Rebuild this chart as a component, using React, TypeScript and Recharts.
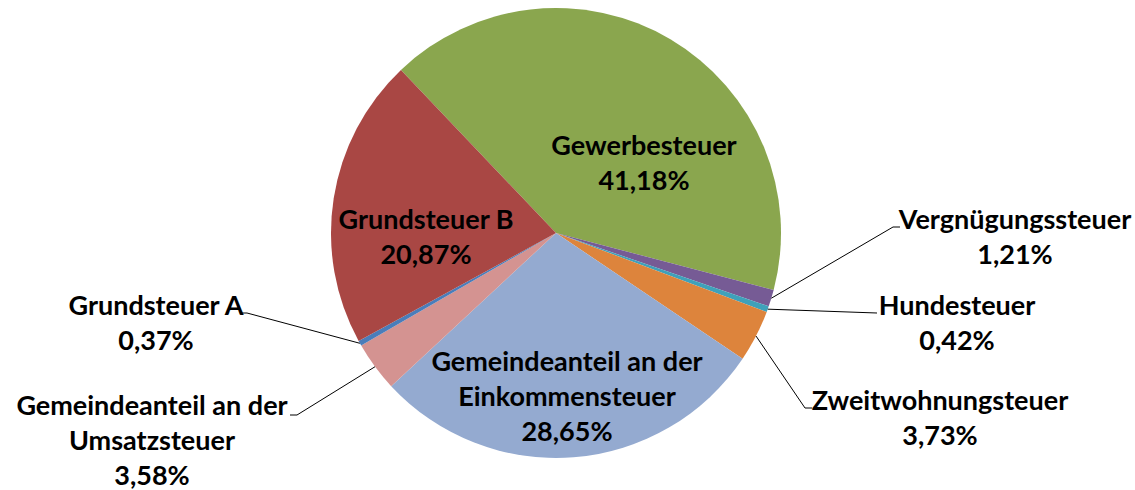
import { Cell, Pie, PieChart } from "recharts"

const names = [
  "Gewerbesteuer",
  "Vergnügungssteuer",
  "Hundesteuer",
  "Zweitwohnungsteuer",
  "Gemeindeanteil an der Einkommensteuer",
  "Gemeindeanteil an der Umsatzsteuer",
  "Grundsteuer A",
  "Grundsteuer B",
]

const shares = [41.18, 1.21, 0.42, 3.73, 28.65, 3.58, 0.37, 20.87]

const colors = [
  "#8aa64e",
  "#765b95",
  "#3fa1ba",
  "#dd843c",
  "#94aad0",
  "#d49391",
  "#4a7dba",
  "#a94744",
]

const data = names.map((name, i) => ({ name, value: shares[i] }))

// text lines for each label, and where the block sits relative to the pie centre
const labelLines: Record<string, string[]> = {
  "Gemeindeanteil an der Einkommensteuer": ["Gemeindeanteil an der", "Einkommensteuer"],
  "Gemeindeanteil an der Umsatzsteuer": ["Gemeindeanteil an der", "Umsatzsteuer"],
}

type Layout = { x: number; y: number; elbow?: [number, number]; tail?: number }

const layout: Record<string, Layout> = {
  Gewerbesteuer: { x: 88, y: -72 },
  "Grundsteuer B": { x: -130, y: 2 },
  "Gemeindeanteil an der Einkommensteuer": { x: 11, y: 162 },
  Vergnügungssteuer: { x: 459, y: 2, elbow: [337, -6], tail: 7 },
  Hundesteuer: { x: 401, y: 88, elbow: [321, 80], tail: 0 },
  Zweitwohnungsteuer: { x: 384, y: 183, elbow: [249, 175], tail: 7 },
  "Grundsteuer A": { x: -400, y: 88, elbow: [-309, 80], tail: -7 },
  "Gemeindeanteil an der Umsatzsteuer": { x: -404, y: 206, elbow: [-259, 182], tail: -7 },
}

const RAD = Math.PI / 180
const LINE_H = 35

function renderLabel(props: any) {
  const { cx, cy, midAngle, outerRadius, name, value } = props
  const pos = layout[name]
  const lines = [...(labelLines[name] ?? [name]), value.toFixed(2).replace(".", ",") + "%"]
  const top = cy + pos.y - ((lines.length - 1) * LINE_H) / 2
  let leader = null
  if (pos.elbow) {
    const sx = cx + outerRadius * Math.cos(-midAngle * RAD)
    const sy = cy + outerRadius * Math.sin(-midAngle * RAD)
    const ex = cx + pos.elbow[0]
    const ey = cy + pos.elbow[1]
    leader = (
      <polyline
        points={`${sx},${sy} ${ex},${ey} ${ex + (pos.tail ?? 0)},${ey}`}
        fill="none"
        stroke="#000"
        strokeWidth={1}
      />
    )
  }
  return (
    <g key={name}>
      {leader}
      <text
        x={cx + pos.x}
        y={top}
        textAnchor="middle"
        dominantBaseline="central"
        fontFamily="Lato, sans-serif"
        fontWeight="bold"
        fontSize={27}
        fill="#000"
      >
        {lines.map((l, i) => (
          <tspan key={i} x={cx + pos.x} y={top + i * LINE_H}>
            {l}
          </tspan>
        ))}
      </text>
    </g>
  )
}

export default function App() {
  return (
    <div style={{ position: "absolute", left: 0, top: 0, background: "#fff" }}>
      <PieChart width={1135} height={490} margin={{ top: 0, right: 0, bottom: 0, left: 0 }}>
        <Pie
          data={data}
          dataKey="value"
          nameKey="name"
          cx={556}
          cy={233}
          outerRadius={225}
          startAngle={133.56}
          endAngle={133.56 - 360}
          stroke="none"
          label={renderLabel}
          labelLine={false}
          isAnimationActive={false}
        >
          {data.map((d, i) => (
            <Cell key={d.name} fill={colors[i]} />
          ))}
        </Pie>
      </PieChart>
    </div>
  )
}
